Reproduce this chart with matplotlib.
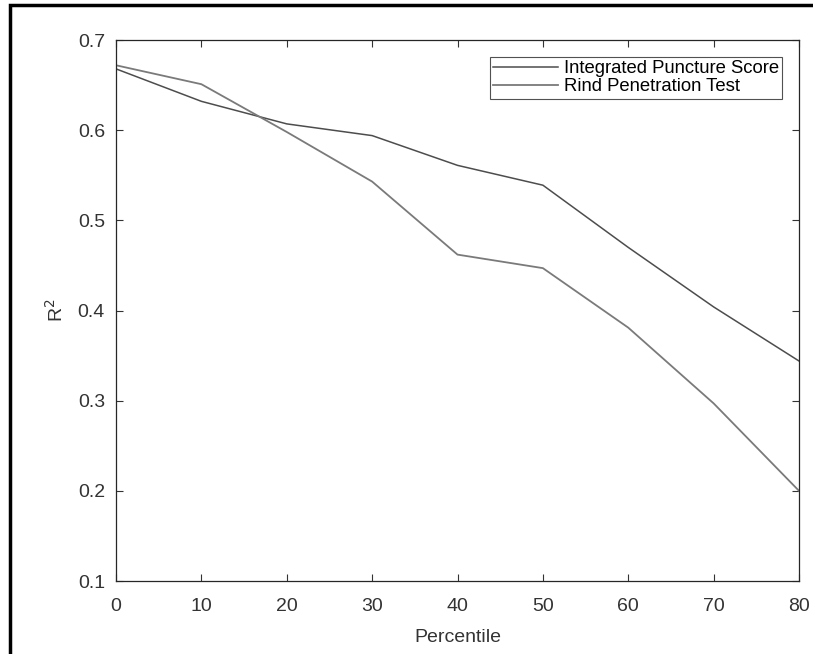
import matplotlib
matplotlib.use("Agg")
import matplotlib.pyplot as plt
from matplotlib.patches import Rectangle

plt.rcParams['font.family'] = ['Liberation Sans', 'DejaVu Sans']

# Data
percentile = [0, 10, 20, 30, 40, 50, 60, 70, 80]
integrated_puncture = [0.668, 0.632, 0.607, 0.594, 0.561, 0.539, 0.470, 0.404, 0.344]
rind_penetration = [0.672, 0.651, 0.598, 0.543, 0.462, 0.447, 0.381, 0.297, 0.200]
series_labels = ["Integrated Puncture Score", "Rind Penetration Test"]

fig = plt.figure(figsize=(8.13, 6.54), dpi=100)
ax = fig.add_axes([0.1427, 0.1116, 0.8401, 0.8272])

ax.plot(percentile, integrated_puncture, color="#4d4d4d", lw=1.1, label=series_labels[0])
ax.plot(percentile, rind_penetration, color="#7a7a7a", lw=1.3, label=series_labels[1])

ax.set_xlim(0, 80)
ax.set_ylim(0.1, 0.7)
ax.set_xticks(range(0, 81, 10))
ax.set_yticks([0.1, 0.2, 0.3, 0.4, 0.5, 0.6, 0.7])
ax.tick_params(direction="in", top=True, right=True, length=5, width=0.8,
               labelsize=14, colors="#333333")
ax.tick_params(axis="y", pad=8)
ax.tick_params(axis="x", pad=12)
for s in ax.spines.values():
    s.set_color("#262626")
    s.set_linewidth(0.9)

ax.set_xlabel("Percentile", fontsize=14, color="#333333", labelpad=10)
ax.set_ylabel("R$^2$", fontsize=14, color="#333333", labelpad=8)

leg = ax.legend(loc="upper right", fontsize=13.3, frameon=True, fancybox=False,
                edgecolor="#262626", handlelength=3.5, handletextpad=0.3,
                borderaxespad=0.9, labelspacing=0.05, borderpad=0.2)
leg.get_frame().set_linewidth(0.8)

# thick outer frame around the picture (cropped at right and bottom)
fig.patches.append(Rectangle((10 / 813, -0.05), 1.0, 1 - 5 / 654 + 0.05,
                             transform=fig.transFigure, fill=False,
                             edgecolor="black", linewidth=2.5))

fig.savefig("out.png", dpi=100)
